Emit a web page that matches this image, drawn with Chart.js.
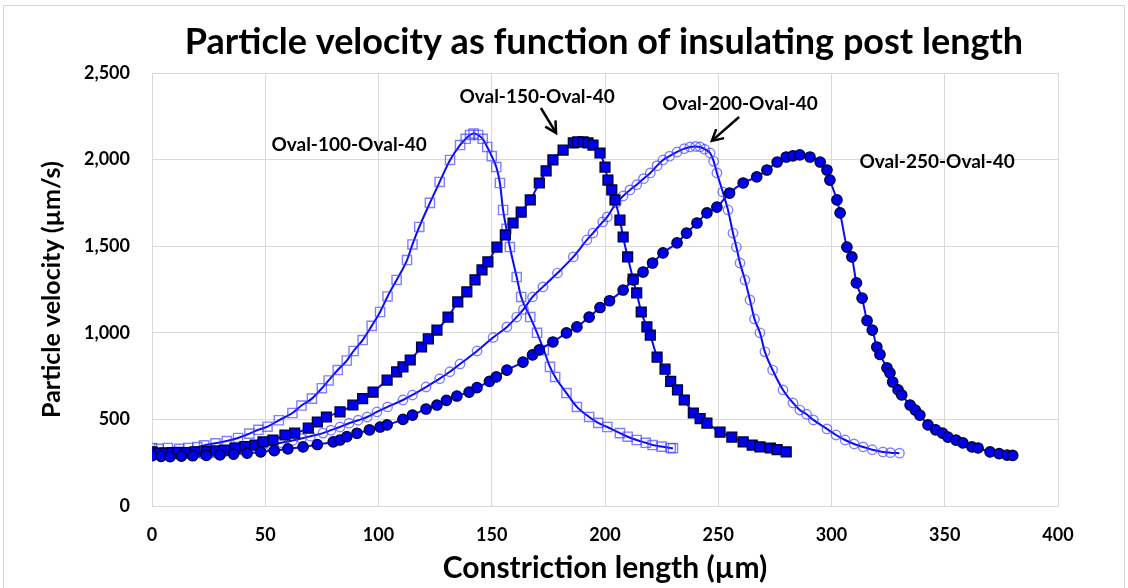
<!DOCTYPE html>
<html>
<head>
<meta charset="utf-8">
<script src="https://cdn.jsdelivr.net/npm/chart.js@4/dist/chart.umd.min.js"></script>
<style>
  body { margin: 0; background: #fff; }
  #wrap { position: relative; width: 1128px; height: 588px; }
  #frame { position: absolute; left: 3px; top: 5px; width: 1120px; height: 600px; border: 1px solid #d6d6d6; pointer-events: none; }
</style>
</head>
<body>
<div id="wrap">
  <canvas id="chart"></canvas>
  <div id="frame"></div>
</div>
<script>
// Oval-100-Oval-40 (open squares)
const s100x = [0, 3, 7, 12, 16, 20, 23, 28, 33, 38, 43, 47, 51, 56, 62, 66, 70.6, 75, 78, 82, 86, 89, 93, 97, 100.7, 104, 108, 112.6, 115, 118, 122.7, 127, 131.6, 136, 138.5, 140.4, 142, 144, 146, 148, 150, 152, 153.6, 155, 156.5, 158, 161, 163, 167, 170, 173, 175.7, 178, 183, 187.6, 193, 197, 201, 206.6, 210, 214, 218, 221, 225, 229, 230];
const s100y = [335, 330, 335, 330, 335, 340, 350, 362, 375, 393, 418, 440, 458, 495, 537, 580, 620, 680, 725, 785, 840, 895, 958, 1040, 1120, 1210, 1305, 1420, 1510, 1611, 1750, 1871, 1998, 2084, 2120, 2142, 2150, 2142, 2120, 2073, 2020, 1957, 1865, 1709, 1600, 1495, 1322, 1207, 1091, 1000, 900, 803, 745, 652, 572, 514, 480, 456, 421, 400, 381, 365, 352, 343, 335, 333];

// Oval-150-Oval-40 (filled squares)
const s150x = [0, 3, 5.7, 9, 11.5, 15, 19, 24, 28, 32, 36.6, 41, 45.5, 49, 53.4, 58.7, 63, 69, 73, 77, 83, 88.7, 93, 97.6, 103.8, 108, 110.8, 114, 119, 122, 125.8, 130.7, 135, 139, 142.6, 145.7, 148.3, 152.3, 156, 159.4, 163, 167, 171, 174, 177, 181.5, 186, 188, 190.3, 192.5, 194.7, 197.8, 200, 201.3, 203, 204.4, 206.6, 208, 210, 212.4, 214, 216, 218.5, 220, 223, 226.5, 229, 232, 235, 239, 242, 245, 250.8, 256, 261, 265, 268.4, 273, 276, 280];
const s150y = [312, 305, 305, 308, 310, 308, 312, 315, 318, 323, 335, 343, 352, 370, 381, 410, 421, 450, 485, 514, 543, 583, 620, 658, 727, 774, 803, 843, 918, 965, 1016, 1091, 1178, 1236, 1305, 1363, 1409, 1495, 1565, 1634, 1697, 1767, 1865, 1935, 1998, 2055, 2096, 2102, 2102, 2096, 2084, 2038, 1957, 1882, 1825, 1767, 1651, 1553, 1438, 1310, 1230, 1120, 1034, 987, 860, 790, 720, 670, 612, 537, 505, 479, 427, 398, 370, 352, 341, 335, 325, 312];

// Oval-200-Oval-40 (open circles)
const s200x = [0, 4, 8, 12, 17, 22, 27, 32, 37, 42, 47, 52, 57, 62, 66, 70, 75.5, 79, 83, 87, 91, 95, 99.3, 104, 110.8, 115, 121, 127, 131.5, 136, 143.5, 150.6, 156.7, 161, 164, 168, 172.6, 179, 186, 192, 194.7, 199, 201, 205, 208, 211, 214, 217, 220, 223, 225.6, 228.5, 231.8, 235, 237.5, 240, 242, 244, 246.4, 248, 249.4, 252, 254.3, 256.5, 258, 259.6, 261.8, 264, 266, 268.4, 270.6, 274, 278.6, 283, 286, 289, 292, 298, 302, 306, 310, 314, 318, 322.7, 326, 330];
const s200y = [300, 296, 293, 295, 298, 302, 307, 313, 320, 330, 340, 352, 365, 378, 390, 403, 421, 438, 456, 478, 495, 514, 543, 572, 612, 641, 687, 735, 775, 820, 895, 973, 1034, 1091, 1135, 1207, 1265, 1345, 1438, 1536, 1576, 1640, 1669, 1750, 1790, 1825, 1855, 1890, 1923, 1965, 1998, 2020, 2044, 2063, 2073, 2076, 2073, 2060, 2038, 1990, 1923, 1813, 1709, 1576, 1495, 1403, 1305, 1190, 1080, 1000, 890, 785, 670, 595, 554, 530, 497, 445, 410, 381, 358, 341, 325, 312, 308, 305];

// Oval-250-Oval-40 (filled circles)
const s250x = [0, 4, 8, 13, 18, 24, 30, 36, 42, 48, 54, 60, 66.7, 73, 80, 83, 86, 90.5, 96, 100.7, 103.8, 110.8, 115, 121, 125.8, 130, 134.6, 140, 143.5, 149, 152, 156.7, 163.8, 168, 171, 177, 183, 187.6, 193, 197.8, 202, 208, 212.4, 216.8, 221, 225.6, 231.8, 236, 240.6, 245, 249.4, 255, 261, 267, 271.5, 276, 280, 283, 286, 290.5, 295, 298, 299.3, 302.4, 303.8, 306.8, 309, 311, 313.5, 315.7, 318, 320, 321.4, 324.5, 325.8, 327, 329.4, 331, 334.7, 337, 339, 342.6, 346, 349, 351.4, 355, 358, 362, 364.7, 370, 374, 377.5, 380];
const s250y = [290, 287, 285, 288, 290, 292, 295, 300, 305, 312, 320, 330, 341, 355, 370, 381, 400, 420, 439, 456, 468, 500, 525, 560, 583, 610, 635, 658, 684, 720, 745, 785, 831, 872, 901, 947, 999, 1034, 1091, 1146, 1185, 1247, 1305, 1351, 1403, 1461, 1519, 1576, 1634, 1692, 1726, 1807, 1865, 1900, 1940, 1986, 2015, 2022, 2027, 2015, 1986, 1940, 1882, 1767, 1692, 1495, 1438, 1288, 1200, 1070, 1016, 918, 875, 797, 768, 716, 670, 641, 583, 554, 525, 468, 440, 421, 398, 380, 364, 341, 335, 312, 302, 294, 292];

const seriesNames = ['Oval-100-Oval-40', 'Oval-150-Oval-40', 'Oval-200-Oval-40', 'Oval-250-Oval-40'];
const xTicks = [0, 50, 100, 150, 200, 250, 300, 350, 400];
const yTicks = [0, 500, 1000, 1500, 2000, 2500];

// callout labels, in data units: [text, x, y]
const callouts = [
  ['Oval-100-Oval-40', 87, 2084],
  ['Oval-150-Oval-40', 170, 2362],
  ['Oval-200-Oval-40', 259.6, 2321],
  ['Oval-250-Oval-40', 346.6, 1986]
];
// arrows, in data units: [x1, y1, x2, y2]
const arrows = [
  [171.7, 2298, 178.4, 2154],
  [259.2, 2246, 247.2, 2108]
];

const FONT = 'Lato, "Open Sans", sans-serif';
const LINE = '#0a0aff';

function pts(xs, ys) { return xs.map((x, i) => ({ x: x, y: ys[i] })); }

const openStyle = {
  borderColor: LINE, borderWidth: 2,
  pointBackgroundColor: 'rgba(0,0,0,0)',
  pointBorderColor: 'rgba(60,60,255,0.65)',
  pointBorderWidth: 1.4,
  cubicInterpolationMode: 'monotone', fill: false
};
const filledStyle = {
  borderColor: LINE, borderWidth: 2,
  pointBackgroundColor: '#0000f0',
  pointBorderColor: '#000033',
  pointBorderWidth: 1.3,
  cubicInterpolationMode: 'monotone', fill: false
};

const labelPlugin = {
  id: 'labels',
  afterDraw(chart) {
    const ctx = chart.ctx;
    const xs = chart.scales.x, ys = chart.scales.y;
    ctx.save();
    // title
    ctx.fillStyle = '#000';
    ctx.textAlign = 'center';
    ctx.textBaseline = 'middle';
    ctx.font = 'bold 36px ' + FONT;
    ctx.fillText('Particle velocity as function of insulating post length', 604, 42);
    // callouts
    ctx.font = 'bold 19px ' + FONT;
    callouts.forEach(c => {
      ctx.fillText(c[0], xs.getPixelForValue(c[1]), ys.getPixelForValue(c[2]));
    });
    // arrows
    ctx.strokeStyle = '#000';
    ctx.lineWidth = 2.5;
    arrows.forEach(a => {
      const x1 = xs.getPixelForValue(a[0]), y1 = ys.getPixelForValue(a[1]);
      const x2 = xs.getPixelForValue(a[2]), y2 = ys.getPixelForValue(a[3]);
      const ang = Math.atan2(y2 - y1, x2 - x1);
      ctx.beginPath();
      ctx.moveTo(x1, y1);
      ctx.lineTo(x2 - 3 * Math.cos(ang), y2 - 3 * Math.sin(ang));
      ctx.stroke();
      ctx.beginPath();
      ctx.moveTo(x2 - 11 * Math.cos(ang) + 6 * Math.sin(ang), y2 - 11 * Math.sin(ang) - 6 * Math.cos(ang));
      ctx.lineTo(x2, y2);
      ctx.lineTo(x2 - 11 * Math.cos(ang) - 6 * Math.sin(ang), y2 - 11 * Math.sin(ang) + 6 * Math.cos(ang));
      ctx.stroke();
    });
    ctx.restore();
  }
};

new Chart(document.getElementById('chart'), {
  type: 'line',
  data: {
    datasets: [
      Object.assign({ label: seriesNames[0], data: pts(s100x, s100y), pointStyle: 'rect', pointRadius: 6.5, order: 4 }, openStyle),
      Object.assign({ label: seriesNames[1], data: pts(s150x, s150y), pointStyle: 'rect', pointRadius: 7, order: 2 }, filledStyle),
      Object.assign({ label: seriesNames[2], data: pts(s200x, s200y), pointStyle: 'circle', pointRadius: 4.7, order: 3 }, openStyle),
      Object.assign({ label: seriesNames[3], data: pts(s250x, s250y), pointStyle: 'circle', pointRadius: 5.2, order: 1 }, filledStyle)
    ]
  },
  options: {
    responsive: true,
    maintainAspectRatio: false,
    animation: false,
    events: [],
    layout: { padding: { top: 73, right: 70, left: 0, bottom: 0 } },
    plugins: { legend: { display: false }, tooltip: { enabled: false } },
    scales: {
      x: {
        type: 'linear', min: 0, max: 400,
        afterFit: s => { s.height = 82; },
        afterBuildTicks: s => { s.ticks = xTicks.map(v => ({ value: v })); },
        grid: { color: '#d9d9d9', drawTicks: false },
        border: { color: '#d9d9d9' },
        ticks: { color: '#000', padding: 18, font: { family: FONT, size: 18, weight: 'bold' } },
        title: { display: true, text: 'Constriction length (µm)', color: '#000', padding: { bottom: 2 }, font: { family: FONT, size: 30, weight: 'bold' } }
      },
      y: {
        min: 0, max: 2500,
        afterFit: s => { s.width = 152; },
        afterBuildTicks: s => { s.ticks = yTicks.map(v => ({ value: v })); },
        grid: { color: '#d9d9d9', drawTicks: false },
        border: { color: '#d9d9d9' },
        ticks: { color: '#000', padding: 22, font: { family: FONT, size: 18, weight: 'bold' }, callback: v => v.toLocaleString('en-US') },
        title: { display: true, text: 'Particle velocity (µm/s)', color: '#000', padding: { top: 37 }, font: { family: FONT, size: 25, weight: 'bold' } }
      }
    }
  },
  plugins: [labelPlugin]
});
</script>
</body>
</html>
